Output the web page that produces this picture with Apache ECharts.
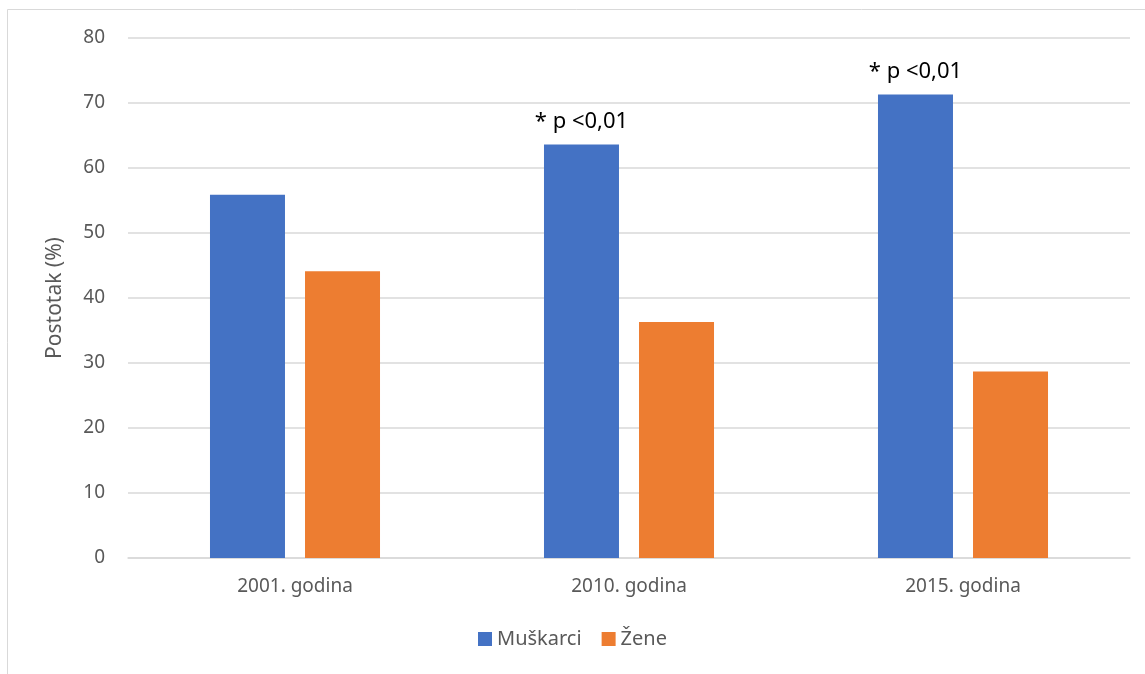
<!DOCTYPE html>
<html>
<head>
<meta charset="utf-8">
<script src="https://cdn.jsdelivr.net/npm/echarts@6/dist/echarts.min.js"></script>
<style>
html,body{margin:0;padding:0;background:#fff;}
#chart{width:1145px;height:674px;}
</style>
</head>
<body>
<div id="chart"></div>
<script>
const categories = ['2001. godina', '2010. godina', '2015. godina'];
const muskarci = [55.9, 63.6, 71.3];
const zene = [44.1, 36.3, 28.7];
const annotations = ['', '* p <0,01', '* p <0,01'];
const yTicks = { min: 0, max: 80, interval: 10 };

const FONT = 'Noto Sans';
const chart = echarts.init(document.getElementById('chart'));
chart.setOption({
  animation: false,
  backgroundColor: '#ffffff',
  textStyle: { fontFamily: FONT },
  graphic: [{
    type: 'rect',
    shape: { x: 7.5, y: 9.5, width: 1200, height: 700 },
    style: { fill: 'none', stroke: '#d9d9d9', lineWidth: 1 },
    silent: true, z: -1
  }],
  grid: { left: 128, right: 15, top: 38, bottom: 116, containLabel: false },
  legend: {
    data: ['Muškarci', 'Žene'],
    bottom: 20,
    left: 'center',
    itemWidth: 14,
    itemHeight: 14,
    itemGap: 20,
    icon: 'rect',
    textStyle: { color: '#595959', fontSize: 20, fontFamily: FONT }
  },
  xAxis: {
    type: 'category',
    data: categories,
    axisTick: { show: false },
    axisLine: { lineStyle: { color: '#d9d9d9', width: 1.5 } },
    axisLabel: { color: '#595959', fontSize: 19, margin: 19, fontFamily: FONT }
  },
  yAxis: {
    type: 'value',
    min: yTicks.min, max: yTicks.max, interval: yTicks.interval,
    name: 'Postotak (%)',
    nameLocation: 'middle',
    nameGap: 62,
    nameTextStyle: { color: '#595959', fontSize: 21, fontFamily: FONT },
    axisLabel: { color: '#595959', fontSize: 19, margin: 23, fontFamily: FONT },
    axisLine: { show: false },
    axisTick: { show: false },
    splitLine: { lineStyle: { color: '#d9d9d9', width: 1.5 } }
  },
  series: [
    {
      name: 'Muškarci', type: 'bar', data: muskarci,
      barWidth: 75, barGap: '26.7%',
      itemStyle: { color: '#4472c4' },
      label: {
        show: true, position: 'top', distance: 12,
        color: '#000000', fontSize: 22, fontFamily: FONT,
        formatter: p => annotations[p.dataIndex]
      }
    },
    {
      name: 'Žene', type: 'bar', data: zene,
      barWidth: 75,
      itemStyle: { color: '#ed7d31' }
    }
  ]
});
</script>
</body>
</html>
